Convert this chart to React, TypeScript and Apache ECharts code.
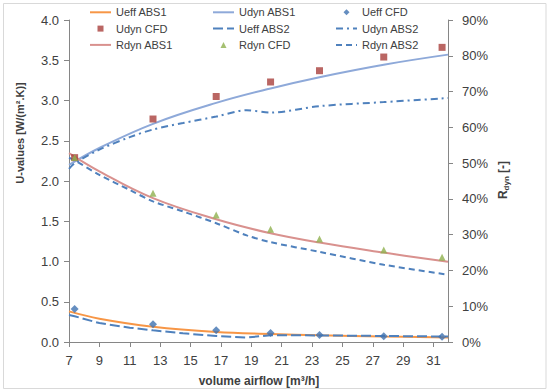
import React, { useEffect, useRef } from "react";
import * as echarts from "echarts";

const xTicks = [7, 9, 11, 13, 15, 17, 19, 21, 23, 25, 27, 29, 31];
const xCFD = [7.37, 12.53, 16.69, 20.27, 23.49, 27.72, 31.56];
const ueffCFD = [0.41, 0.22, 0.145, 0.112, 0.087, 0.07, 0.066];
const udynCFD = [2.29, 2.77, 3.05, 3.23, 3.37, 3.54, 3.66];
const rdynCFD = [0.516, 0.416, 0.355, 0.315, 0.288, 0.257, 0.237];

const xABS1 = [7, 9, 12.53, 16.69, 20.27, 23.49, 27.72, 31.95];
const ueffABS1 = [0.38, 0.29, 0.19, 0.125, 0.1, 0.083, 0.068, 0.056];
const udynABS1 = [2.2, 2.41, 2.71, 2.97, 3.15, 3.29, 3.445, 3.57];
const rdynABS1 = [0.528, 0.477, 0.402, 0.343, 0.304, 0.278, 0.25, 0.224];

const xABS2 = [7, 7.37, 9, 11, 12.53, 14.5, 16.69, 18.7, 20.27, 23.49, 27.72, 31.95];
const ueffABS2 = [0.335, 0.32, 0.235, 0.178, 0.145, 0.108, 0.075, 0.055, 0.085, 0.082, 0.075, 0.068];
const udynABS2 = [2.15, 2.22, 2.39, 2.545, 2.64, 2.72, 2.8, 2.88, 2.85, 2.93, 2.98, 3.03];
const rdynABS2 = [0.515, 0.508, 0.467, 0.425, 0.393, 0.365, 0.332, 0.298, 0.279, 0.252, 0.216, 0.188];

const zip = (xs: number[], ys: number[]) => xs.map((x, i) => [x, ys[i]]);

const FONT = "Liberation Sans, Arial, sans-serif";
const TXT = "#404040";
const AX = "#868686";
const BLUE = "#4F81BD";

export default function App() {
  const ref = useRef<HTMLDivElement>(null);
  useEffect(() => {
    document.body.style.margin = "0";
    const chart = echarts.init(ref.current!, undefined, { renderer: "svg" });
    const legendBase = {
      orient: "vertical" as const,
      top: 5.3,
      itemWidth: 21,
      itemHeight: 7,
      itemGap: 2.3,
      padding: 0,
      selectedMode: false,
      symbolKeepAspect: true,
      textStyle: { fontSize: 11, color: TXT, fontFamily: FONT, lineHeight: 14 },
    };
    const lineS = (name: string, xs: number[], ys: number[], color: string, yi: number, smooth: boolean | number, type: any) => ({
      name,
      type: "line",
      yAxisIndex: yi,
      data: zip(xs, ys),
      smooth,
      symbol: "none",
      showSymbol: false,
      lineStyle: { color, width: 2, type },
      itemStyle: { color: "rgba(0,0,0,0)", borderWidth: 0 },
      z: 2,
    });
    const scatS = (name: string, ys: number[], color: string, yi: number, symbol: string, size: number) => ({
      name,
      type: "scatter",
      yAxisIndex: yi,
      data: zip(xCFD, ys),
      symbol,
      symbolSize: size,
      symbolKeepAspect: true,
      itemStyle: { color },
      z: 5,
    });
    const iconOf: Record<string, string> = {
      "Udyn CFD": "path://M0,0 M21,7 M7.5,0.5 L13.5,0.5 L13.5,6.5 L7.5,6.5 Z",
      "Rdyn CFD": "path://M0,0 M21,7 M7.5,6.5 L10.5,0.5 L13.5,6.5 Z",
      "Ueff CFD": "path://M0,0 M21,7 M10.5,0.5 L13.5,3.5 L10.5,6.5 L7.5,3.5 Z",
    };
    const items = (names: string[]) => names.map((n) => (iconOf[n] ? { name: n, icon: iconOf[n] } : { name: n }));
    chart.setOption({
      animation: false,
      textStyle: { fontFamily: FONT },
      grid: { left: 69, right: 101, top: 20, bottom: 50, containLabel: false },
      legend: [
        { ...legendBase, left: 89, data: items(["Ueff ABS1", "Udyn CFD", "Rdyn ABS1"]) },
        { ...legendBase, left: 212, data: items(["Udyn ABS1", "Ueff ABS2", "Rdyn CFD"]) },
        { ...legendBase, left: 335, data: items(["Ueff CFD", "Udyn ABS2", "Rdyn ABS2"]) },
      ],
      xAxis: {
        type: "value",
        min: 7,
        max: 31.95,
        splitLine: { show: false },
        axisLine: { lineStyle: { color: AX } },
        axisTick: { length: 5, lineStyle: { color: AX }, customValues: xTicks },
        axisLabel: { customValues: xTicks, color: TXT, fontSize: 13, margin: 12, fontFamily: FONT },
      },
      yAxis: [
        {
          type: "value",
          min: 0,
          max: 4,
          interval: 0.5,
          splitLine: { show: false },
          axisLine: { show: true, lineStyle: { color: AX } },
          axisTick: { show: true, length: 5, lineStyle: { color: AX } },
          axisLabel: { color: TXT, fontSize: 13, margin: 10, fontFamily: FONT, formatter: (v: number) => v.toFixed(1) },
        },
        {
          type: "value",
          min: 0,
          max: 0.9,
          interval: 0.1,
          position: "right",
          splitLine: { show: false },
          axisLine: { show: true, lineStyle: { color: AX } },
          axisTick: { show: true, length: 5, lineStyle: { color: AX } },
          axisLabel: { color: TXT, fontSize: 13, margin: 14, fontFamily: FONT, formatter: (v: number) => Math.round(v * 100) + "%" },
        },
      ],
      graphic: [
        { type: "rect", shape: { x: 3.5, y: 3.5, width: 542.5, height: 385 }, style: { fill: "none", stroke: "#d9d9d9", lineWidth: 1 }, silent: true },
        {
          type: "text", x: 20, y: 133, rotation: Math.PI / 2,
          style: { text: "U-values [W/(m².K)]", fill: TXT, font: `bold 11px ${FONT}`, align: "center", verticalAlign: "middle" },
        },
        {
          type: "text", x: 503, y: 180, rotation: Math.PI / 2,
          style: {
            text: "{a|R}{b|dyn}{a| [-]}", fill: TXT, align: "center", verticalAlign: "middle",
            rich: {
              a: { fontSize: 12, fontWeight: "bold", fontFamily: FONT, fill: TXT, lineHeight: 14, verticalAlign: "middle" },
              b: { fontSize: 8, fontWeight: "bold", fontFamily: FONT, fill: TXT, lineHeight: 14, verticalAlign: "bottom" },
            },
          },
        },
        {
          type: "text", x: 259, y: 381,
          style: { text: "volume airflow [m³/h]", fill: TXT, font: `bold 12px ${FONT}`, align: "center", verticalAlign: "middle" },
        },
      ],
      series: [
        lineS("Ueff ABS1", xABS1, ueffABS1, "#F79646", 0, 0.4, "solid"),
        lineS("Udyn ABS1", xABS1, udynABS1, "#8EA9D9", 0, 0.4, "solid"),
        scatS("Ueff CFD", ueffCFD, "#3F72B0", 0, "diamond", 8),
        scatS("Udyn CFD", udynCFD, "#A9403C", 0, "rect", 7),
        lineS("Ueff ABS2", xABS2, ueffABS2, BLUE, 0, false, [10, 4]),
        lineS("Udyn ABS2", xABS2, udynABS2, BLUE, 0, 0.3, [7, 4, 2, 4]),
        lineS("Rdyn ABS1", xABS1, rdynABS1, "#D9918E", 1, 0.4, "solid"),
        scatS("Rdyn CFD", rdynCFD, "#8FB04E", 1, "triangle", 7),
        lineS("Rdyn ABS2", xABS2, rdynABS2, BLUE, 1, 0.3, [6, 4]),
      ],
    });
    return () => chart.dispose();
  }, []);
  return <div ref={ref} style={{ width: 549, height: 392 }} />;
}
